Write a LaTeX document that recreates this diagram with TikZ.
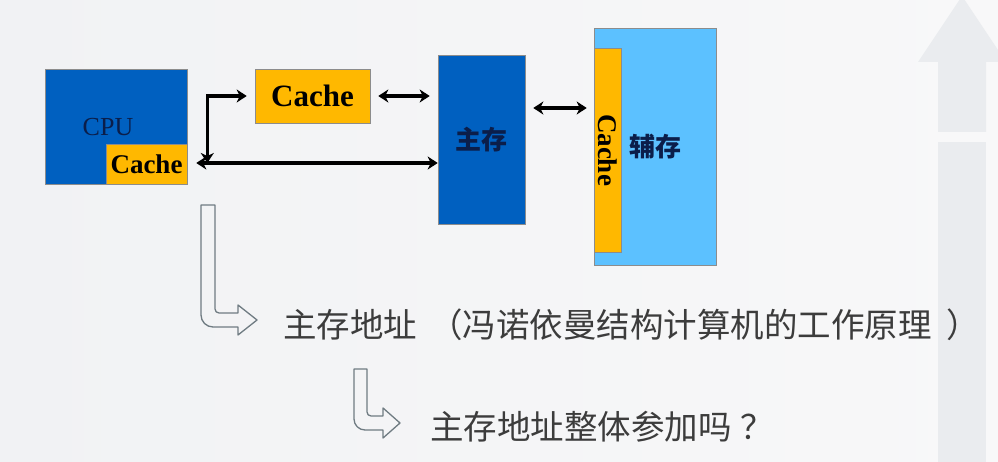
\documentclass[tikz,border=0pt]{standalone}
\usepackage{fontspec}
\setmainfont{Liberation Serif}
\newfontfamily\cjk{Noto Sans CJK SC}
\usetikzlibrary{arrows.meta,positioning,calc}
\definecolor{cpublue}{HTML}{0060C0}
\definecolor{cacheorange}{HTML}{FFB800}
\definecolor{auxblue}{HTML}{5CC1FF}
\definecolor{labelnavy}{HTML}{0B1E4A}
\definecolor{notegray}{HTML}{3C3C3C}
\definecolor{hollowgray}{HTML}{6F7B82}
\definecolor{bgleft}{HTML}{F1F2F4}
\definecolor{bgright}{HTML}{F8F8F9}
\definecolor{decogray}{HTML}{EAECEF}

\begin{document}
\begin{tikzpicture}[x=1pt, y=-1pt, >={Stealth[length=10pt,width=13pt,inset=3pt]}]
        % Style definitions
        \tikzset{
            block/.style={draw=black!45, rectangle, inner sep=0pt, line width=0.6pt},
            cache/.style={block, fill=cacheorange, font=\bfseries\fontsize{27}{27}\selectfont},
            conn/.style={line width=3.4pt, black},
            hollow/.style={draw=hollowgray, line width=1.3pt, line join=round},
            note/.style={anchor=west, inner sep=0pt, text=notegray, font=\cjk\fontsize{33.5}{33.5}\selectfont}
        }

        % Background
        \useasboundingbox (0,0) rectangle (998,462);
        \shade [left color=bgleft, right color=bgright] (0,0) rectangle (998,462);
        \fill [decogray] (918,62) -- (962,-4) -- (1006,62) -- (986,62) -- (986,132) -- (938,132) -- (938,62) -- cycle;
        \fill [decogray] (938,142) rectangle (986,462);

        % Nodes
        \node [block, fill=cpublue, minimum width=142pt, minimum height=115pt] (cpu) at (116,126.5) {};
        \node [text=labelnavy, font=\fontsize{26}{26}\selectfont] (cpulabel) at (108,127) {CPU};
        \node [cache, minimum width=81pt, minimum height=40pt, anchor=south east] (cache1) at (cpu.south east) {Cache};

        \node [cache, minimum width=115pt, minimum height=54pt, font=\bfseries\fontsize{31}{31}\selectfont] (cache2) at (312.5,96) {Cache};

        \node [block, fill=cpublue, minimum width=87pt, minimum height=169pt, text=labelnavy, font=\cjk\bfseries\fontsize{26}{26}\selectfont] (mem) at (481.5,139.5) {主存};

        \node [block, fill=auxblue, minimum width=122pt, minimum height=237pt] (aux) at (655,146.5) {};
        \node [cache, rotate=-90, minimum width=204pt, minimum height=27pt] (cache3) at (607.5,150) {Cache};
        \node [text=labelnavy, font=\cjk\bfseries\fontsize{26}{26}\selectfont] (auxlabel) at (655,147) {辅存};

        % Connections
        \coordinate (split) at ($(cache1.east)+(20,-1)$);
        \draw [<->, conn, shorten <=9pt] ([yshift=1pt]cache1.east) -- ([yshift=1pt]cache1.east -| mem.west);
        \draw [<->, conn, shorten >=8pt] (split) |- (cache2.west);
        \draw [<->, conn, shorten <=8pt, shorten >=8pt] (cache2.east) -- (cache2.east -| mem.west);
        \draw [<->, conn, shorten <=8pt, shorten >=7pt] ([yshift=31.5pt]mem.east) -- ([yshift=31.5pt]mem.east -| aux.west);

        % Hollow bent arrows
        \draw [hollow] (201,205) [rounded corners=12pt] -- (201,327) [sharp corners] -- (238,327) -- (238,335) -- (257,320)
            -- (238,305) -- (238,313) [rounded corners=4pt] -- (215,313) [sharp corners] -- (215,205) -- cycle;
        \draw [hollow] (354,369) [rounded corners=11pt] -- (354,430) [sharp corners] -- (383,430) -- (383,438) -- (400,423)
            -- (383,408) -- (383,416) [rounded corners=4pt] -- (367,416) [sharp corners] -- (367,369) -- cycle;

        % Notes
        \node [note] (addr) at (283,325) {主存地址\hspace{12pt}（冯诺依曼结构计算机的工作原理\hspace{15pt}）};
        \node [note] (whole) at (430,427) {主存地址整体参加吗\hspace{9pt}？};
    \end{tikzpicture}
\end{document}
